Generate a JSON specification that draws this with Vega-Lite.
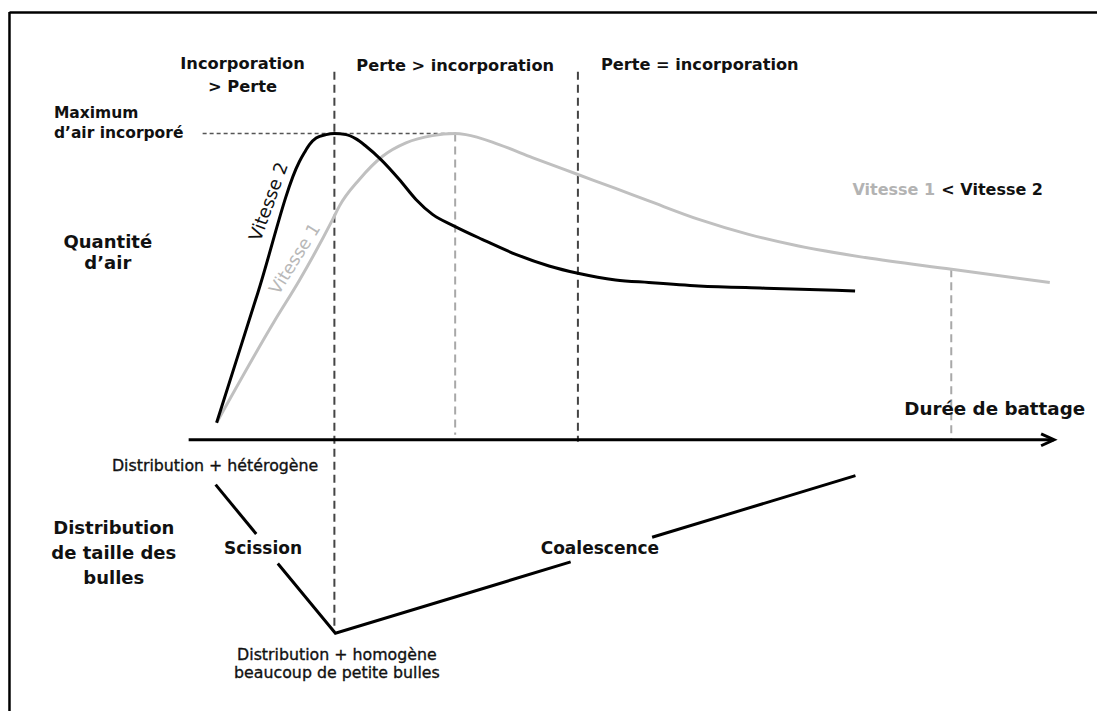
{
  "$schema": "https://vega.github.io/schema/vega-lite/v6.json",
  "width": 1099,
  "height": 713,
  "padding": 0,
  "autosize": {"type": "fit", "contains": "padding"},
  "background": "white",
  "config": {"view": {"stroke": null}, "text": {"font": "DejaVu Sans"}},
  "datasets": {
    "frame": [
      {"t": -17.125, "t2": 73.667, "q": 142.5, "q2": 142.5},
      {"t": -17.125, "t2": -17.125, "q": 142.67, "q2": -91}
    ],
    "darkDash": [
      {"t": 10, "q": 122.67, "q2": -64.33},
      {"t": 30.33, "q": 122.67, "q2": -1}
    ],
    "lightDash": [
      {"t": 20.083, "q": 102, "q2": 1.33},
      {"t": 61.5, "q": 56.67, "q2": -0.33}
    ],
    "maxLine": [{"t": -1, "t2": 20.083, "q": 102}],
    "axisLine": [{"t": -2.167, "t2": 70.083, "q": -0.333}],
    "arrow": [
      {"i": 1, "t": 69, "q": 1.667},
      {"i": 2, "t": 70.083, "q": -0.333},
      {"i": 3, "t": 69, "q": -2.333}
    ],
    "vitesse1": [
      {"t": 0.167, "q": 5.33}, {"t": 5, "q": 39.37}, {"t": 7.083, "q": 53},
      {"t": 9.858, "q": 73.33}, {"t": 10.417, "q": 77.77}, {"t": 12.083, "q": 86.67},
      {"t": 14.025, "q": 94.43}, {"t": 15.975, "q": 98.9}, {"t": 18.19, "q": 101.33},
      {"t": 20.06, "q": 102}, {"t": 20.975, "q": 101.67}, {"t": 23.75, "q": 98.33},
      {"t": 26.525, "q": 94}, {"t": 30.33, "q": 88.33}, {"t": 33.475, "q": 83.67},
      {"t": 36.25, "q": 79.5}, {"t": 40.42, "q": 73.33}, {"t": 44.58, "q": 68.33},
      {"t": 48.75, "q": 64.43}, {"t": 54.31, "q": 60.57}, {"t": 61.53, "q": 56.67},
      {"t": 69.725, "q": 52.23}
    ],
    "vitesse2": [
      {"t": 0.167, "q": 5.33}, {"t": 3.625, "q": 49.0}, {"t": 7.083, "q": 92.67},
      {"t": 7.5, "q": 95.67}, {"t": 7.917, "q": 98.33}, {"t": 8.475, "q": 100.57},
      {"t": 9.308, "q": 101.67}, {"t": 10, "q": 102}, {"t": 10.975, "q": 101.67},
      {"t": 11.81, "q": 100.23}, {"t": 12.64, "q": 97.77}, {"t": 13.89, "q": 93.33},
      {"t": 15.42, "q": 86.67}, {"t": 16.81, "q": 80}, {"t": 18.19, "q": 75},
      {"t": 20, "q": 71.1}, {"t": 22.33, "q": 66.67}, {"t": 25.14, "q": 61.67},
      {"t": 27.92, "q": 57.77}, {"t": 30.33, "q": 55.33}, {"t": 33.47, "q": 53.1},
      {"t": 36.25, "q": 52.23}, {"t": 40.42, "q": 51.1}, {"t": 45.97, "q": 50.33},
      {"t": 53.47, "q": 49.43}
    ],
    "bulles": [
      {"seg": "a", "t": 0.083, "q": -15.33}, {"seg": "a", "t": 3.475, "q": -31.83},
      {"seg": "b", "t": 5.275, "q": -41.67}, {"seg": "b", "t": 10.083, "q": -65}, {"seg": "b", "t": 29.725, "q": -41.17},
      {"seg": "c", "t": 36.525, "q": -32.93}, {"seg": "c", "t": 53.5, "q": -12.33}
    ],
    "phaseTitleCenter": [
      {"label": "Incorporation", "t": 2.333, "q": 123.67},
      {"label": "> Perte", "t": 2.333, "q": 116}
    ],
    "phaseTitleLeft": [
      {"label": "Perte > incorporation", "t": 11.833, "q": 123},
      {"label": "Perte = incorporation", "t": 32.25, "q": 123.33}
    ],
    "maxLabel": [
      {"label": "Maximum", "t": -13.417, "q": 107.33},
      {"label": "d’air incorporé", "t": -13.417, "q": 100.67}
    ],
    "bigLabels": [
      {"label": "Quantité", "t": -8.917, "q": 63.67},
      {"label": "d’air", "t": -8.917, "q": 56.67},
      {"label": "Distribution", "t": -8.417, "q": -31.67},
      {"label": "de taille des", "t": -8.417, "q": -40.33},
      {"label": "bulles", "t": -8.417, "q": -48.67}
    ],
    "xLabel": [{"label": "Durée de battage", "t": 65.125, "q": 8}],
    "processLabels": [
      {"label": "Scission", "t": 4.042, "q": -38.67},
      {"label": "Coalescence", "t": 32.167, "q": -38.67}
    ],
    "stateLabels": [
      {"label": "Distribution + hétérogène", "t": 0.042, "q": -10.67},
      {"label": "Distribution + homogène", "t": 10.21, "q": -74},
      {"label": "beaucoup de petite bulles", "t": 10.21, "q": -80}
    ],
    "v2Label": [{"label": "Vitesse 2", "t": 4.583, "q": 79.17}],
    "v1Label": [{"label": "Vitesse 1", "t": 6.75, "q": 60}],
    "cmpGray": [{"label": "Vitesse 1", "t": 53.25, "q": 81.33}],
    "cmpBlack": [{"label": "< Vitesse 2", "t": 60.67, "q": 81.33}]
  },
  "layer": [
    {
      "data": {"name": "frame"},
      "mark": {"type": "rule", "color": "#000000", "strokeWidth": 2.5},
      "encoding": {
        "x": {"field": "t", "type": "quantitative", "scale": {"domain": [-17.9167, 73.6667], "nice": false, "zero": false}, "axis": null},
        "x2": {"field": "t2"},
        "y": {"field": "q", "type": "quantitative", "scale": {"domain": [-91, 146.6667], "nice": false, "zero": false}, "axis": null},
        "y2": {"field": "q2"}
      }
    },
    {
      "data": {"name": "darkDash"},
      "mark": {"type": "rule", "color": "#444444", "strokeWidth": 2, "strokeDash": [8, 5]},
      "encoding": {
        "x": {"field": "t", "type": "quantitative"},
        "y": {"field": "q", "type": "quantitative"},
        "y2": {"field": "q2"}
      }
    },
    {
      "data": {"name": "lightDash"},
      "mark": {"type": "rule", "color": "#a8a8a8", "strokeWidth": 2, "strokeDash": [8, 5]},
      "encoding": {
        "x": {"field": "t", "type": "quantitative"},
        "y": {"field": "q", "type": "quantitative"},
        "y2": {"field": "q2"}
      }
    },
    {
      "data": {"name": "maxLine"},
      "mark": {"type": "rule", "color": "#555555", "strokeWidth": 1.5, "strokeDash": [4, 3]},
      "encoding": {
        "x": {"field": "t", "type": "quantitative"},
        "x2": {"field": "t2"},
        "y": {"field": "q", "type": "quantitative"}
      }
    },
    {
      "data": {"name": "axisLine"},
      "mark": {"type": "rule", "color": "#000000", "strokeWidth": 3},
      "encoding": {
        "x": {"field": "t", "type": "quantitative"},
        "x2": {"field": "t2"},
        "y": {"field": "q", "type": "quantitative"}
      }
    },
    {
      "data": {"name": "arrow"},
      "mark": {"type": "line", "color": "#000000", "strokeWidth": 3, "strokeJoin": "miter"},
      "encoding": {
        "x": {"field": "t", "type": "quantitative"},
        "y": {"field": "q", "type": "quantitative"},
        "order": {"field": "i", "type": "quantitative"}
      }
    },
    {
      "data": {"name": "vitesse1"},
      "mark": {"type": "line", "color": "#c0c0c0", "strokeWidth": 3, "interpolate": "monotone"},
      "encoding": {
        "x": {"field": "t", "type": "quantitative"},
        "y": {"field": "q", "type": "quantitative"}
      }
    },
    {
      "data": {"name": "vitesse2"},
      "mark": {"type": "line", "color": "#000000", "strokeWidth": 3, "interpolate": "monotone"},
      "encoding": {
        "x": {"field": "t", "type": "quantitative"},
        "y": {"field": "q", "type": "quantitative"}
      }
    },
    {
      "data": {"name": "bulles"},
      "mark": {"type": "line", "color": "#000000", "strokeWidth": 3},
      "encoding": {
        "x": {"field": "t", "type": "quantitative"},
        "y": {"field": "q", "type": "quantitative"},
        "detail": {"field": "seg", "type": "nominal"}
      }
    },
    {
      "data": {"name": "phaseTitleCenter"},
      "mark": {"type": "text", "fontSize": 16.3, "fontWeight": "bold", "color": "#111111", "align": "center", "baseline": "alphabetic"},
      "encoding": {
        "x": {"field": "t", "type": "quantitative"},
        "y": {"field": "q", "type": "quantitative"},
        "text": {"field": "label"}
      }
    },
    {
      "data": {"name": "phaseTitleLeft"},
      "mark": {"type": "text", "fontSize": 16.2, "fontWeight": "bold", "color": "#111111", "align": "left", "baseline": "alphabetic"},
      "encoding": {
        "x": {"field": "t", "type": "quantitative"},
        "y": {"field": "q", "type": "quantitative"},
        "text": {"field": "label"}
      }
    },
    {
      "data": {"name": "maxLabel"},
      "mark": {"type": "text", "fontSize": 15.5, "fontWeight": "bold", "color": "#111111", "align": "left", "baseline": "alphabetic"},
      "encoding": {
        "x": {"field": "t", "type": "quantitative"},
        "y": {"field": "q", "type": "quantitative"},
        "text": {"field": "label"}
      }
    },
    {
      "data": {"name": "bigLabels"},
      "mark": {"type": "text", "fontSize": 18, "fontWeight": "bold", "color": "#111111", "align": "center", "baseline": "alphabetic"},
      "encoding": {
        "x": {"field": "t", "type": "quantitative"},
        "y": {"field": "q", "type": "quantitative"},
        "text": {"field": "label"}
      }
    },
    {
      "data": {"name": "xLabel"},
      "mark": {"type": "text", "fontSize": 18.3, "fontWeight": "bold", "color": "#111111", "align": "center", "baseline": "alphabetic"},
      "encoding": {
        "x": {"field": "t", "type": "quantitative"},
        "y": {"field": "q", "type": "quantitative"},
        "text": {"field": "label"}
      }
    },
    {
      "data": {"name": "processLabels"},
      "mark": {"type": "text", "fontSize": 17, "fontWeight": "bold", "color": "#111111", "align": "center", "baseline": "alphabetic"},
      "encoding": {
        "x": {"field": "t", "type": "quantitative"},
        "y": {"field": "q", "type": "quantitative"},
        "text": {"field": "label"}
      }
    },
    {
      "data": {"name": "stateLabels"},
      "mark": {"type": "text", "fontSize": 15.8, "fontWeight": "normal", "color": "#111111", "stroke": "#111111", "strokeWidth": 0.35, "align": "center", "baseline": "alphabetic"},
      "encoding": {
        "x": {"field": "t", "type": "quantitative"},
        "y": {"field": "q", "type": "quantitative"},
        "text": {"field": "label"}
      }
    },
    {
      "data": {"name": "v2Label"},
      "mark": {"type": "text", "fontSize": 18, "fontWeight": "normal", "color": "#111111", "align": "center", "baseline": "middle", "angle": 290},
      "encoding": {
        "x": {"field": "t", "type": "quantitative"},
        "y": {"field": "q", "type": "quantitative"},
        "text": {"field": "label"}
      }
    },
    {
      "data": {"name": "v1Label"},
      "mark": {"type": "text", "fontSize": 17.5, "fontWeight": "normal", "color": "#b8b8b8", "align": "center", "baseline": "middle", "angle": 302},
      "encoding": {
        "x": {"field": "t", "type": "quantitative"},
        "y": {"field": "q", "type": "quantitative"},
        "text": {"field": "label"}
      }
    },
    {
      "data": {"name": "cmpGray"},
      "mark": {"type": "text", "fontSize": 16, "fontWeight": "bold", "color": "#b3b3b3", "align": "left", "baseline": "alphabetic"},
      "encoding": {
        "x": {"field": "t", "type": "quantitative"},
        "y": {"field": "q", "type": "quantitative"},
        "text": {"field": "label"}
      }
    },
    {
      "data": {"name": "cmpBlack"},
      "mark": {"type": "text", "fontSize": 16, "fontWeight": "bold", "color": "#111111", "align": "left", "baseline": "alphabetic"},
      "encoding": {
        "x": {"field": "t", "type": "quantitative"},
        "y": {"field": "q", "type": "quantitative"},
        "text": {"field": "label"}
      }
    }
  ]
}
